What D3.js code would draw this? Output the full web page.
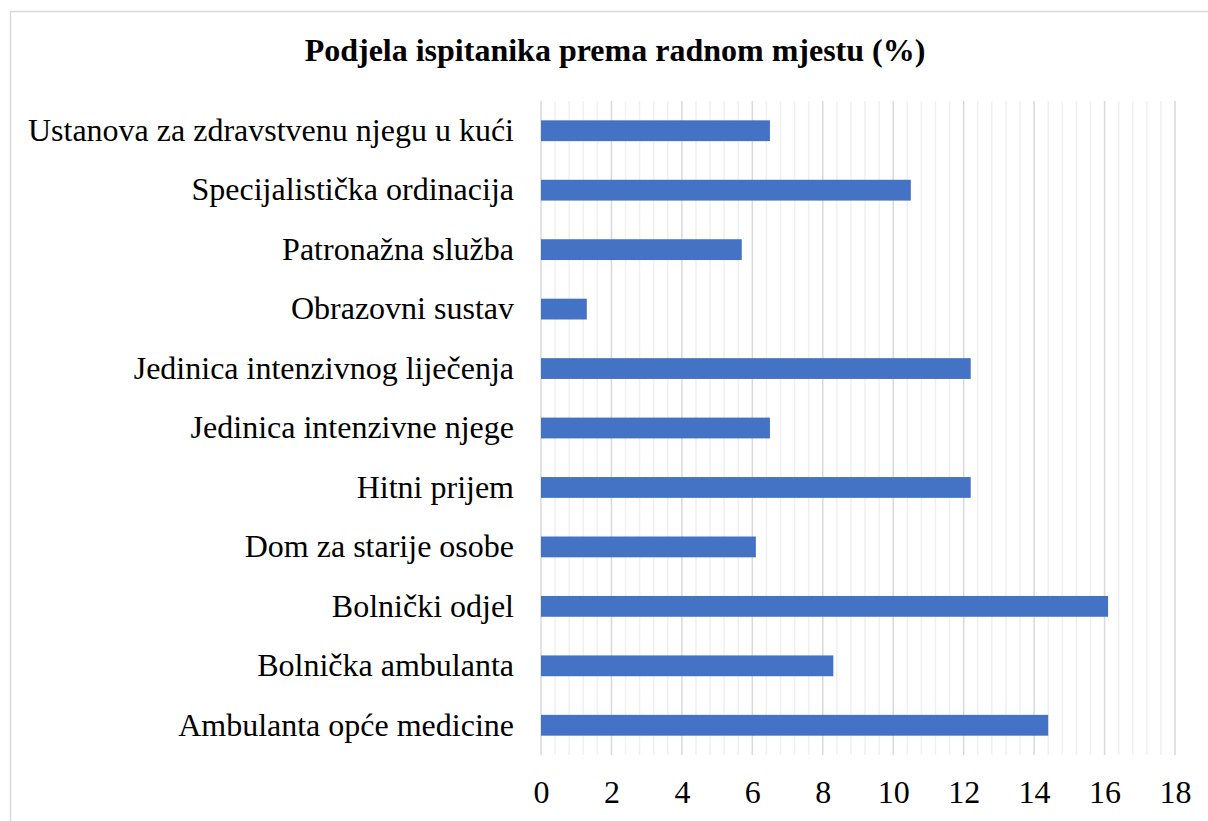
<!DOCTYPE html>
<html>
<head>
<meta charset="utf-8">
<script src="https://cdn.jsdelivr.net/npm/d3@7"></script>
<style>
  body { margin: 0; background: #fff; }
  svg { display: block; }
  text { font-family: "Liberation Serif", "Times New Roman", serif; fill: #000; }
</style>
</head>
<body>
<svg id="chart"></svg>
<script>
const categories = [
  "Ustanova za zdravstvenu njegu u kući",
  "Specijalistička ordinacija",
  "Patronažna služba",
  "Obrazovni sustav",
  "Jedinica intenzivnog liječenja",
  "Jedinica intenzivne njege",
  "Hitni prijem",
  "Dom za starije osobe",
  "Bolnički odjel",
  "Bolnička ambulanta",
  "Ambulanta opće medicine"
];
const values = [6.5, 10.5, 5.7, 1.3, 12.2, 6.5, 12.2, 6.1, 16.1, 8.3, 14.4];
const xTicks = [0, 2, 4, 6, 8, 10, 12, 14, 16, 18];
const title = "Podjela ispitanika prema radnom mjestu (%)";

const W = 1208, H = 821;
const margin = { top: 101, right: 33, bottom: 66, left: 541 };
const width = W - margin.left - margin.right;
const height = H - margin.top - margin.bottom;

const svg = d3.select("#chart").attr("width", W).attr("height", H);

// outer chart frame
svg.append("rect")
  .attr("x", 10.5).attr("y", 11.5)
  .attr("width", W + 20).attr("height", H + 20)
  .attr("fill", "none").attr("stroke", "#d9d9d9").attr("stroke-width", 1.5);

svg.append("text")
  .attr("x", 615).attr("y", 61)
  .attr("text-anchor", "middle")
  .attr("font-size", 32).attr("font-weight", "bold")
  .text(title);

const g = svg.append("g")
  .attr("transform", "translate(" + margin.left + "," + margin.top + ")");

const xScale = d3.scaleLinear().domain([0, 18]).range([0, width]);
const yScale = d3.scaleBand().domain(categories).range([0, height]).paddingInner(0.65).paddingOuter(0.325);

// minor gridlines
g.append("g")
  .selectAll("line")
  .data(d3.range(0, 18.01, 0.4).filter(v => Math.abs(v / 2 - Math.round(v / 2)) > 0.01))
  .enter().append("line")
  .attr("x1", d => xScale(d)).attr("x2", d => xScale(d))
  .attr("y1", 0).attr("y2", height)
  .attr("stroke", "#f0f0f0").attr("stroke-width", 1.5);

// major gridlines
g.append("g")
  .selectAll("line")
  .data(xTicks)
  .enter().append("line")
  .attr("x1", d => xScale(d)).attr("x2", d => xScale(d))
  .attr("y1", 0).attr("y2", height)
  .attr("stroke", "#d9d9d9").attr("stroke-width", 1.5);

g.selectAll("rect.bar")
  .data(values)
  .enter().append("rect")
  .attr("class", "bar")
  .attr("x", 0)
  .attr("y", (d, i) => yScale(categories[i]))
  .attr("width", d => xScale(d))
  .attr("height", yScale.bandwidth())
  .attr("fill", "#4472c4");

const xAxis = d3.axisBottom(xScale).tickValues(xTicks).tickSize(0).tickPadding(25);
g.append("g")
  .attr("transform", "translate(0," + height + ")")
  .call(xAxis)
  .call(a => a.select(".domain").remove())
  .selectAll("text")
  .attr("font-size", 32)
  .attr("font-family", "Liberation Serif, serif");

const yAxis = d3.axisLeft(yScale).tickSize(0).tickPadding(27);
g.append("g")
  .call(yAxis)
  .call(a => a.select(".domain").remove())
  .selectAll("text")
  .attr("font-size", 32)
  .attr("font-family", "Liberation Serif, serif");
</script>
</body>
</html>
